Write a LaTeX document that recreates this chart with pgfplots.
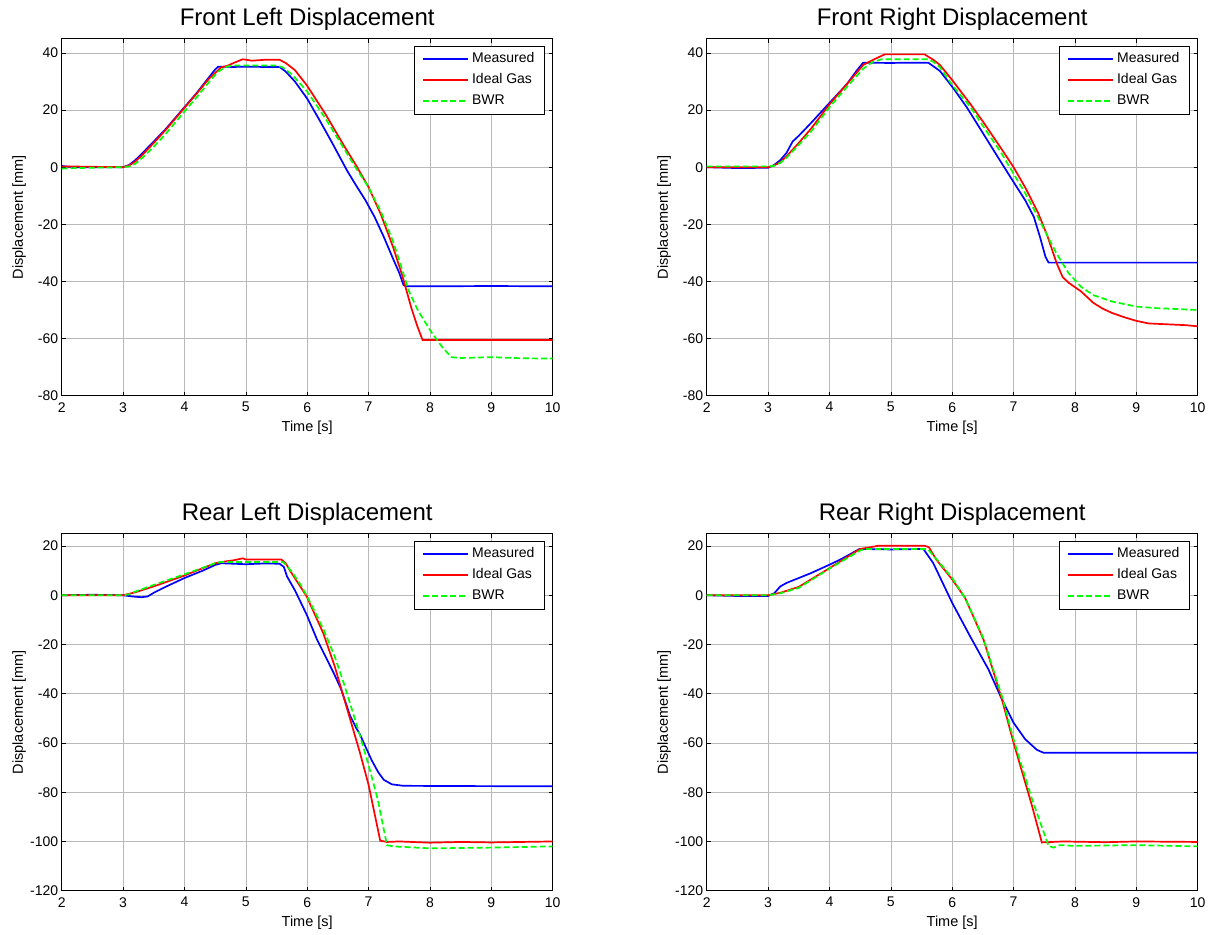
\documentclass[border=0pt]{standalone}
\usepackage{fontspec}
\setmainfont{Liberation Sans}
\usepackage{pgfplots}
\pgfplotsset{compat=1.18}
\definecolor{mblue}{RGB}{0,0,255}
\definecolor{mred}{RGB}{255,0,0}
\definecolor{mgreen}{RGB}{0,255,0}
\pgfplotsset{
  disp/.style={
    width=491pt, height=357pt, scale only axis,
    anchor=south west,
    xmin=2, xmax=10, xtick={2,...,10},
    grid=major, major grid style={gray!55, line width=0.5pt},
    tick align=inside, major tick length=4pt,
    axis line style={line width=0.8pt},
    tick style={black, line width=0.6pt},
    ticklabel style={font=\fontsize{14}{16}\selectfont},
    xticklabel style={yshift=-3pt},
    /pgf/number format/assume math mode=true,
    xlabel={Time [s]}, ylabel={Displacement [mm]},
    label style={font=\fontsize{14.5}{16}\selectfont},
    xlabel style={at={(axis description cs:0.5,0)}, anchor=north, yshift=-22pt},
    ylabel style={at={(axis description cs:0,0.5)}, anchor=center, yshift=42.5pt},
    title style={font=\fontsize{24}{26}\selectfont, at={(axis description cs:0.5,1)}, anchor=base, yshift=7.5pt},
    legend style={at={(1,1)}, anchor=north east, xshift=-8pt, yshift=-7pt,
      font=\fontsize{14}{16}\selectfont, draw=black, line width=0.7pt,
      inner xsep=8pt, inner ysep=2.5pt,
      nodes={inner xsep=2pt, inner ysep=3.5pt, text height=10.5pt, text depth=3.5pt},
      column sep=1pt},
    legend cell align=left,
    legend image code/.code={\draw[#1] (0pt,0pt) -- (45pt,0pt);},
    every axis plot/.append style={line width=1.7pt},
  },
  bwr/.style={mgreen, dash pattern=on 6pt off 3pt},
}
\begin{document}
\begin{tikzpicture}
\useasboundingbox (0,0) rectangle (1212pt,934pt);
% ---------------- Front Left ----------------
\begin{axis}[disp, at={(61.7pt,538.3pt)}, ymin=-80, ymax=45, ytick={-80,-60,...,40},
  title={Front Left Displacement}]
\addplot[mblue] coordinates {(2.0,0.5)(2.05,0.3)(2.2,0)(3.0,0)(3.1,0.8)(3.2,2.5)(3.3,4.6)(3.4,6.8)(3.5,9.0)(3.7,13.5)(3.9,18.5)(4.0,21.0)(4.2,26.0)(4.4,31.5)(4.5,34.2)(4.55,35.2)(4.8,35.1)(5.0,35.2)(5.3,35.1)(5.55,35.1)(5.65,33.5)(5.8,30.0)(6.0,24.0)(6.2,16.5)(6.4,8.8)(6.65,-1.2)(6.8,-6.5)(6.95,-11.6)(7.1,-17.5)(7.25,-24.5)(7.41,-32.6)(7.5,-37.0)(7.57,-41.3)(7.62,-41.7)(8.0,-41.7)(9.0,-41.6)(10.0,-41.7)};
\addplot[mred] coordinates {(2.0,0.3)(3.0,0)(3.1,0.6)(3.2,2.0)(3.3,4.0)(3.5,8.5)(3.7,13.2)(4.0,20.8)(4.2,25.8)(4.4,31.0)(4.6,35.0)(4.7,35.5)(4.8,36.5)(4.95,37.8)(5.1,37.3)(5.3,37.6)(5.55,37.6)(5.65,36.5)(5.8,34.0)(6.0,28.5)(6.3,18.5)(6.6,7.5)(6.8,0.5)(7.0,-7.0)(7.2,-16.5)(7.4,-28.0)(7.55,-38.0)(7.7,-49.5)(7.8,-56.0)(7.88,-60.5)(8.0,-60.5)(10.0,-60.5)};
\addplot[bwr] coordinates {(2.0,-0.5)(2.2,-0.3)(3.0,0)(3.1,0.3)(3.2,1.2)(3.3,3.0)(3.5,7.2)(3.7,11.8)(4.0,19.5)(4.2,24.5)(4.4,29.8)(4.55,33.5)(4.7,35.3)(4.8,35.6)(5.5,35.6)(5.6,35.0)(5.75,32.5)(6.0,26.5)(6.3,17.0)(6.6,6.5)(6.8,-0.5)(7.0,-7.0)(7.2,-15.5)(7.4,-26.0)(7.55,-36.0)(7.65,-43.0)(7.8,-50.0)(8.0,-57.0)(8.2,-63.0)(8.35,-66.5)(8.5,-66.8)(9.0,-66.5)(9.5,-66.9)(10.0,-67.0)};
\legend{Measured, Ideal Gas, BWR}
\end{axis}
% ---------------- Front Right ----------------
\begin{axis}[disp, at={(706.7pt,538.3pt)}, ymin=-80, ymax=45, ytick={-80,-60,...,40},
  title={Front Right Displacement}]
\addplot[mblue] coordinates {(2.0,0)(2.5,-0.3)(3.0,-0.2)(3.1,0.8)(3.2,2.5)(3.3,5.0)(3.4,9.0)(3.5,11.0)(3.7,15.5)(4.0,22.5)(4.28,29.0)(4.45,34.0)(4.55,36.6)(5.0,36.5)(5.3,36.6)(5.61,36.6)(5.8,33.7)(6.01,27.9)(6.24,20.9)(6.51,11.6)(6.78,2.3)(7.0,-5.2)(7.19,-11.6)(7.33,-17.4)(7.43,-24.4)(7.52,-31.4)(7.57,-33.4)(8.0,-33.4)(9.0,-33.4)(10.0,-33.4)};
\addplot[mred] coordinates {(2.0,0)(3.0,0)(3.1,0.6)(3.2,1.8)(3.3,3.8)(3.5,8.5)(3.7,13.5)(4.0,22.0)(4.3,29.5)(4.55,35.8)(4.7,37.5)(4.9,39.5)(5.55,39.5)(5.7,37.5)(5.8,35.8)(6.0,30.5)(6.3,22.0)(6.5,16.0)(6.8,6.5)(7.0,0)(7.2,-7.5)(7.4,-16.0)(7.55,-24.0)(7.7,-33.5)(7.8,-38.5)(7.9,-40.5)(8.0,-42.0)(8.1,-43.5)(8.2,-45.5)(8.3,-47.5)(8.45,-49.5)(8.6,-51.0)(8.8,-52.5)(9.0,-53.8)(9.2,-54.7)(9.5,-55.0)(9.8,-55.3)(10.0,-55.7)};
\addplot[bwr] coordinates {(2.0,0.3)(3.0,0.3)(3.1,0.5)(3.2,1.5)(3.3,3.3)(3.5,7.8)(3.7,12.5)(4.0,21.0)(4.3,28.5)(4.55,34.5)(4.7,36.8)(4.85,37.8)(5.6,37.8)(5.7,36.8)(5.8,35.0)(6.0,28.8)(6.3,21.0)(6.5,14.5)(6.8,5.0)(7.0,-2.3)(7.2,-9.5)(7.4,-17.5)(7.55,-24.0)(7.7,-30.2)(7.9,-37.2)(8.0,-39.5)(8.1,-41.9)(8.3,-44.8)(8.6,-47.0)(9.0,-48.8)(9.3,-49.3)(10.0,-50.0)};
\legend{Measured, Ideal Gas, BWR}
\end{axis}
% ---------------- Rear Left ----------------
\begin{axis}[disp, at={(61.7pt,43.3pt)}, ymin=-120, ymax=25, ytick={-120,-100,...,20},
  title={Rear Left Displacement}]
\addplot[mblue] coordinates {(2.0,0)(2.5,0.2)(3.0,0)(3.15,-0.5)(3.3,-0.8)(3.4,-0.5)(3.5,1.0)(3.7,3.5)(4.0,7.0)(4.3,10.0)(4.5,12.3)(4.6,13.0)(5.0,12.6)(5.3,12.9)(5.55,12.8)(5.62,11.5)(5.67,7.7)(5.8,2.0)(5.99,-7.8)(6.16,-18.0)(6.43,-31.5)(6.55,-38.0)(6.70,-49.0)(6.8,-54.0)(6.85,-56.0)(6.97,-62.6)(7.05,-67.0)(7.16,-72.0)(7.25,-75.0)(7.38,-76.8)(7.57,-77.4)(8.5,-77.5)(10.0,-77.6)};
\addplot[mred] coordinates {(2.0,0)(3.0,0)(3.2,1.2)(3.5,3.6)(4.0,8.0)(4.5,13.0)(4.6,13.5)(4.8,14.2)(4.95,15.0)(5.0,14.5)(5.58,14.5)(5.65,13.0)(5.72,10.0)(5.85,5.0)(5.99,-0.4)(6.26,-15.3)(6.45,-29.0)(6.59,-41.0)(6.86,-64.0)(7.0,-77.0)(7.19,-99.7)(7.3,-100.2)(7.5,-100.0)(7.8,-100.3)(8.0,-100.5)(8.5,-100.2)(9.0,-100.4)(9.5,-100.2)(10.0,-100.0)};
\addplot[bwr] coordinates {(2.0,0)(3.0,0)(3.1,0.4)(3.2,1.5)(3.5,4.2)(4.0,8.5)(4.5,13.0)(4.6,13.5)(5.6,13.5)(5.65,12.5)(5.75,9.5)(5.9,4.0)(6.0,-0.5)(6.26,-13.5)(6.45,-25.0)(6.6,-36.0)(6.86,-57.0)(7.0,-69.0)(7.15,-83.0)(7.3,-101.5)(7.4,-102.0)(8.0,-102.8)(9.0,-102.5)(10.0,-102.0)};
\legend{Measured, Ideal Gas, BWR}
\end{axis}
% ---------------- Rear Right ----------------
\begin{axis}[disp, at={(706.7pt,43.3pt)}, ymin=-120, ymax=25, ytick={-120,-100,...,20},
  title={Rear Right Displacement}]
\addplot[mblue] coordinates {(2.0,0)(2.5,-0.3)(3.0,-0.3)(3.1,0.8)(3.2,3.6)(3.3,5.0)(3.5,7.0)(3.7,9.0)(4.0,12.4)(4.2,14.8)(4.49,18.8)(5.0,18.6)(5.53,18.8)(5.69,13.1)(6.0,-3.1)(6.29,-16.6)(6.59,-30.1)(6.81,-42.3)(7.0,-51.8)(7.19,-58.5)(7.38,-62.8)(7.49,-64.0)(8.5,-64.0)(10.0,-64.0)};
\addplot[mred] coordinates {(2.0,0)(3.0,0)(3.2,1.0)(3.5,3.4)(4.0,11.0)(4.5,18.8)(4.8,20.1)(5.55,20.1)(5.62,19.5)(5.74,14.5)(6.0,6.4)(6.21,-1.1)(6.51,-18.0)(6.81,-42.3)(7.0,-59.9)(7.3,-85.5)(7.46,-100.4)(7.8,-100.0)(8.5,-100.3)(9.0,-100.0)(10.0,-100.2)};
\addplot[bwr] coordinates {(2.0,0)(3.0,0)(3.2,0.8)(3.5,3.0)(4.0,10.8)(4.5,18.2)(4.6,18.8)(5.6,18.8)(5.75,14.5)(6.0,7.0)(6.21,-1.1)(6.5,-17.0)(6.81,-41.0)(7.0,-58.5)(7.3,-82.8)(7.57,-101.8)(7.65,-102.5)(7.75,-101.5)(8.0,-101.8)(9.0,-101.5)(10.0,-102.0)};
\legend{Measured, Ideal Gas, BWR}
\end{axis}
\end{tikzpicture}
\end{document}
